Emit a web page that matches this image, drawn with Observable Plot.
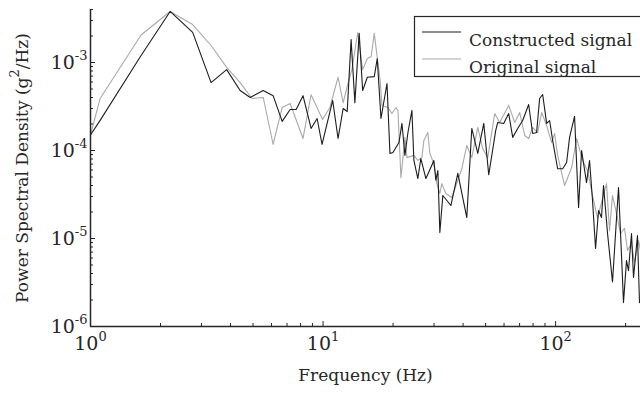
<!DOCTYPE html>
<html>
<head>
<meta charset="utf-8">
<script src="https://cdn.jsdelivr.net/npm/d3@7"></script>
<script src="https://cdn.jsdelivr.net/npm/@observablehq/plot@0.6"></script>
<style>
  body { margin: 0; background: #fff; }
  #chart { width: 640px; height: 396px; overflow: hidden; }
</style>
</head>
<body>
<div id="chart"></div>
<script>
// Power spectral density of the constructed (synthesised) signal
const constructedFreq = [1, 1.1, 1.65, 2.2, 2.75, 3.3, 3.85, 4.4, 4.86, 5.53, 6.1, 6.67, 7.22, 7.66, 8.2, 8.88, 9.43, 9.9, 11.0, 11.6, 12.2, 12.7, 13.2, 13.7, 14.3, 14.8, 15.5, 16.6, 17.1, 17.74, 18.83, 19.39, 19.97, 21.2, 21.84, 22.49, 23.17, 24.1, 24.58, 25.56, 26.33, 27.68, 29.07, 29.95, 30.55, 31.16, 31.78, 32.73, 35.44, 37.97, 41.5, 43.6, 46.26, 49.09, 51.57, 55.26, 56.37, 59.81, 62.83, 65.37, 68.69, 72.17, 76.57, 79.65, 82.85, 85.34, 87.95, 91.49, 94.24, 97.08, 102, 107.2, 111.5, 114.8, 120.6, 125.5, 129.3, 135.8, 139.9, 144.1, 148.5, 152.9, 157.5, 160.7, 167.2, 175.6, 182.7, 186.4, 192, 195.8, 201.7, 205.7, 212, 216.2, 224.9, 229.4];
const constructedPsd = [1.5e-4, 2.2e-4, 1.2e-3, 3.8e-3, 2.2e-3, 5.9e-4, 8.3e-4, 4.8e-4, 4.0e-4, 4.8e-4, 4.2e-4, 2.14e-4, 2.92e-4, 2.92e-4, 4.2e-4, 1.78e-4, 2.31e-4, 1.17e-4, 3.7e-4, 1.37e-4, 3.0e-4, 2.77e-4, 1.82e-3, 3.5e-4, 2.14e-3, 4.8e-4, 6.8e-4, 6.9e-4, 1.11e-3, 2.31e-4, 5.77e-4, 9.25e-5, 9.5e-5, 1.23e-4, 2.03e-4, 8.8e-5, 1.6e-4, 2.85e-4, 7.7e-5, 4.8e-5, 8.1e-5, 4.8e-5, 6.4e-5, 7.7e-5, 4.6e-5, 5.9e-5, 1.17e-5, 3.08e-5, 2.37e-5, 5.5e-5, 1.73e-5, 1.78e-4, 9.25e-5, 2.03e-4, 5.3e-5, 1.69e-4, 2.08e-4, 2.03e-4, 2.63e-4, 1.41e-4, 1.78e-4, 2.19e-4, 3.33e-4, 1.56e-4, 1.6e-4, 3.9e-4, 4.33e-4, 2.03e-4, 2.19e-4, 1.3e-4, 6.2e-5, 6.2e-5, 7.3e-5, 1.41e-4, 2.44e-4, 2.25e-5, 1.0e-4, 4.3e-5, 7.7e-5, 2.7e-5, 7.7e-6, 2.08e-5, 1.73e-5, 4.0e-5, 1.14e-5, 3.2e-6, 1.69e-5, 3.8e-5, 6.4e-6, 1.87e-6, 5.6e-6, 4.3e-6, 1.14e-5, 3.6e-6, 1.08e-5, 1.87e-6];

// Power spectral density of the original (measured) signal
const originalFreq = [1, 1.1, 1.65, 2.2, 2.75, 3.3, 3.85, 4.4, 4.95, 5.53, 6.1, 6.67, 7.22, 8.2, 8.88, 9.95, 10.7, 11.6, 12.2, 12.8, 13.3, 14.1, 14.8, 15.5, 16.1, 16.6, 17.6, 17.92, 19.01, 19.78, 20.58, 20.99, 21.62, 22.49, 22.94, 24.58, 25.56, 26.6, 27.13, 28.22, 28.79, 29.95, 30.85, 31.78, 32.41, 33.72, 35.78, 39.5, 41.5, 43.6, 46.26, 48.6, 51.07, 54.72, 57.5, 62.83, 66.69, 70.06, 73.62, 76.57, 79.65, 83.67, 87.09, 91.49, 96.12, 99.01, 102, 109.3, 117.2, 123.1, 130.6, 137.2, 144.1, 151.5, 157.5, 165.5, 170.5, 175.6, 182.7, 190.1, 197.8, 203.7, 212, 218.4, 227.1, 231.7];
const originalPsd = [1.5e-4, 3.9e-4, 2.05e-3, 3.8e-3, 2.7e-3, 1.56e-3, 8.8e-4, 5.9e-4, 3.9e-4, 4.0e-4, 1.17e-4, 3.08e-4, 3.42e-4, 1.37e-4, 4.3e-4, 2.25e-4, 3.08e-4, 6.8e-4, 3.5e-4, 5.77e-4, 8.3e-4, 2.19e-3, 8.3e-4, 1.11e-3, 1.17e-3, 2.14e-3, 6.2e-4, 3.25e-4, 3.08e-4, 2.63e-4, 3.08e-4, 2.85e-4, 4.9e-5, 1.41e-4, 8.3e-5, 8.8e-5, 7.7e-5, 8.3e-5, 1.3e-4, 1.6e-4, 9.25e-5, 7.1e-5, 4.2e-5, 3.25e-5, 4.2e-5, 3.25e-5, 2.92e-5, 6.2e-5, 1.14e-4, 8.3e-5, 1.83e-4, 1.05e-4, 8.3e-5, 2.63e-4, 2.08e-4, 3.25e-4, 2.08e-4, 2.7e-4, 1.48e-4, 1.37e-4, 1.83e-4, 1.6e-4, 2.7e-4, 1.92e-4, 1.23e-4, 1.56e-4, 8.8e-5, 4.0e-5, 6.4e-5, 1.37e-4, 7.7e-5, 5.9e-5, 3.08e-5, 1.69e-5, 2.57e-5, 4.2e-5, 1.23e-5, 3.08e-5, 1.92e-5, 1.14e-5, 1.3e-5, 7.3e-6, 8.8e-6, 5.3e-6, 9.5e-6, 7.3e-6];

const seriesNames = ["Constructed signal", "Original signal"];
const seriesColors = ["#1c1c1c", "#a9a9a9"];
const xLabel = "Frequency (Hz)";
const yLabel = "Power Spectral Density (g^2/Hz)";
const xDomain = [1, 231.7];
const yDomain = [1e-6, 4e-3];

const width = 640, height = 396;
const margin = {top: 9, right: 0, bottom: 70, left: 90};
const plotW = width - margin.left - margin.right;
const plotH = height - margin.top - margin.bottom;
const ink = "#262626";
const font = "'DejaVu Serif', serif";

const toRows = (fs, vs) => fs.map((f, i) => ({f, v: vs[i]}));
const constructed = toRows(constructedFreq, constructedPsd);
const original = toRows(originalFreq, originalPsd);

// decade ticks and the 2..9 minor ticks from the log scales
const isDecade = v => Math.abs(Math.log10(v) - Math.round(Math.log10(v))) < 1e-9;
const xAll = d3.scaleLog().domain(xDomain).ticks();
const yAll = d3.scaleLog().domain(yDomain).ticks();
const xMajor = xAll.filter(isDecade), xMinor = xAll.filter(v => !isDecade(v));
const yMajor = yAll.filter(isDecade), yMinor = yAll.filter(v => !isDecade(v));
const powerLabel = v => "10^" + Math.round(Math.log10(v));

const plot = Plot.plot({
  width, height,
  marginTop: margin.top, marginRight: margin.right,
  marginBottom: margin.bottom, marginLeft: margin.left,
  style: {fontFamily: font, color: ink, background: "white"},
  x: {type: "log", domain: xDomain, axis: null},
  y: {type: "log", domain: yDomain, axis: null},
  marks: [
    Plot.line(original, {x: "f", y: "v", stroke: seriesColors[1], strokeWidth: 1.1, clip: true}),
    Plot.line(constructed, {x: "f", y: "v", stroke: seriesColors[0], strokeWidth: 1.1, clip: true}),
    // inward tick marks
    Plot.tickY(yMajor, {y: d => d, stroke: ink, insetRight: plotW - 5}),
    Plot.tickY(yMinor, {y: d => d, stroke: ink, insetRight: plotW - 3}),
    Plot.tickX(xMajor, {x: d => d, stroke: ink, insetTop: plotH - 5}),
    Plot.tickX(xMinor, {x: d => d, stroke: ink, insetTop: plotH - 3}),
    // axis lines
    Plot.ruleX([xDomain[0]], {stroke: ink, strokeWidth: 1.5}),
    Plot.ruleY([yDomain[0]], {stroke: ink, strokeWidth: 1.5}),
    // tick labels
    Plot.text(yMajor, {y: d => d, text: powerLabel, frameAnchor: "left", textAnchor: "end",
      dx: -3, fontSize: 19, fill: ink}),
    Plot.text(xMajor, {x: d => d, text: powerLabel, frameAnchor: "bottom", textAnchor: "middle",
      dy: 23, fontSize: 19, fill: ink}),
    // axis titles
    Plot.text([xLabel], {text: d => d, frameAnchor: "bottom", dy: 54, fontSize: 17, fill: ink}),
    Plot.text([yLabel], {text: d => d, frameAnchor: "left", textAnchor: "middle", rotate: -90,
      dx: -68, fontSize: 17, fill: ink})
  ]
});

// turn "^n" into raised superscripts
const NS = "http://www.w3.org/2000/svg";
d3.select(plot).selectAll("text").each(function () {
  const s = this.textContent;
  if (!s.includes("^")) return;
  const parts = s.split(/\^([\-\d]+)/);
  this.textContent = "";
  const rise = 9;
  parts.forEach((p, i) => {
    if (!p) return;
    const ts = document.createElementNS(NS, "tspan");
    ts.textContent = p;
    if (i % 2 === 1) {
      ts.setAttribute("dy", -rise);
      ts.setAttribute("font-size", 13);
    } else if (i > 0) {
      ts.setAttribute("dy", rise);
    }
    this.appendChild(ts);
  });
});

// legend box
const svg = d3.select(plot);
const lg = svg.append("g").attr("font-family", font).attr("font-size", 17).attr("text-anchor", "start");
lg.append("rect")
  .attr("x", 414.5).attr("y", 16.5).attr("width", 260).attr("height", 60)
  .attr("fill", "white").attr("stroke", ink).attr("stroke-width", 1.2);
seriesNames.forEach((name, i) => {
  const y0 = 32 + i * 27;
  lg.append("line")
    .attr("x1", 422).attr("x2", 461).attr("y1", y0).attr("y2", y0)
    .attr("stroke", seriesColors[i]).attr("stroke-width", 1.2);
  lg.append("text").attr("x", 469).attr("y", y0 + 14).attr("fill", ink)
    .attr("text-anchor", "start").text(name);
});

document.getElementById("chart").appendChild(plot);
</script>
</body>
</html>
